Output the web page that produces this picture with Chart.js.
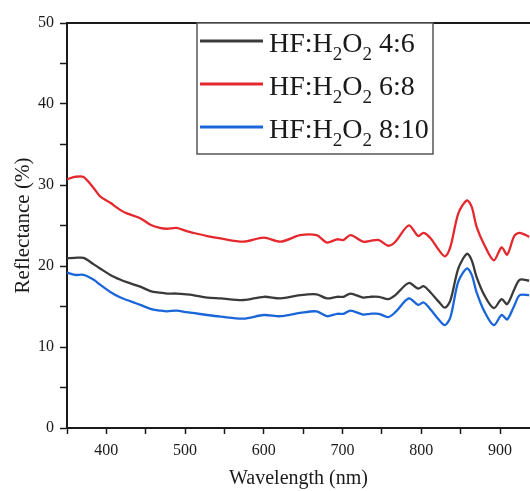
<!DOCTYPE html>
<html lang="en">
<head>
<meta charset="UTF-8">
<title>Reflectance spectra</title>
<script src="https://cdn.jsdelivr.net/npm/chart.js"></script>
<style>
  html, body { margin: 0; padding: 0; background: #fff; }
</style>
</head>
<body>
<canvas id="chartCanvas" width="530" height="491"></canvas>
<script>
// wavelength grid (nm) and reflectance (%)
const wavelengths = [350, 360, 371, 384, 392, 405, 418, 426, 443, 456, 468, 477, 489, 502, 510, 528, 545, 574,
  600, 621, 646, 667, 680, 693, 701, 710, 726, 735, 746, 758, 767, 784, 796, 803, 812, 822, 830, 837, 847,
  858, 864, 870, 880, 892, 902, 909, 918, 925, 937];
const ratio46 = [20.95, 21.0, 21.0, 20.2, 19.7, 18.9, 18.3, 18.0, 17.45, 16.9, 16.7, 16.6, 16.6, 16.5, 16.4, 16.1, 16.0, 15.8,
  16.2, 16.0, 16.4, 16.5, 16.0, 16.2, 16.2, 16.6, 16.1, 16.2, 16.2, 15.9, 16.4, 17.9, 17.2, 17.5, 16.7, 15.6, 14.85, 15.8, 19.7,
  21.5, 20.7, 18.7, 16.4, 14.8, 15.9, 15.3, 17.1, 18.3, 18.2];
const ratio68 = [30.7, 31.0, 31.0, 29.6, 28.6, 27.8, 26.9, 26.5, 25.9, 25.1, 24.7, 24.6, 24.7, 24.3, 24.1, 23.7, 23.4, 23.0,
  23.5, 23.0, 23.8, 23.8, 22.9, 23.3, 23.2, 23.8, 23.0, 23.1, 23.2, 22.5, 23.0, 25.0, 23.7, 24.1, 23.4, 22.0, 21.2, 22.4, 26.5,
  28.1, 27.3, 24.9, 22.6, 20.7, 22.3, 21.4, 23.7, 24.1, 23.6];
const ratio810 = [19.2, 18.9, 18.9, 18.3, 17.7, 16.8, 16.1, 15.8, 15.2, 14.7, 14.5, 14.4, 14.5, 14.3, 14.2, 13.95, 13.75, 13.5,
  13.95, 13.8, 14.2, 14.4, 13.8, 14.1, 14.1, 14.5, 14.0, 14.1, 14.1, 13.7, 14.3, 16.0, 15.2, 15.5, 14.6, 13.4, 12.7, 13.7, 18.1,
  19.7, 18.9, 16.8, 14.4, 12.7, 13.95, 13.4, 15.1, 16.4, 16.4];
const seriesLabels = ['HF:H₂O₂ 4:6', 'HF:H₂O₂ 6:8', 'HF:H₂O₂ 8:10'];
const seriesColors = ['#3a3a3a', '#e5282d', '#1a66d9'];

const serif = '"Liberation Serif", "Times New Roman", serif';
const ink = '#1a1a1a';

const toPoints = vals => wavelengths.map((w, i) => ({ x: w, y: vals[i] }));

// draws text, turning ₂ into a lowered small 2
function drawRich(ctx, text, x, y, size) {
  for (const ch of text) {
    const sub = ch === '₂';
    const c = sub ? '2' : ch;
    ctx.font = (sub ? size * 0.68 : size) + 'px ' + serif;
    ctx.fillText(c, x, sub ? y + size * 0.3 : y);
    x += ctx.measureText(c).width;
  }
}

// boxed legend + top frame line like the Origin plot
const frameLegend = {
  id: 'frameLegend',
  afterDatasetsDraw(chart) {
    const { ctx, chartArea } = chart;
    ctx.save();
    ctx.strokeStyle = ink;
    ctx.lineWidth = 2;
    ctx.beginPath();
    ctx.moveTo(chartArea.left, chartArea.top);
    ctx.lineTo(chartArea.right, chartArea.top);
    ctx.stroke();

    const bx = chartArea.left + 130, by = chartArea.top, bw = 236, bh = 131;
    ctx.fillStyle = '#fff';
    ctx.fillRect(bx, by, bw, bh);
    ctx.strokeStyle = '#555';
    ctx.lineWidth = 1.5;
    ctx.strokeRect(bx, by, bw, bh);

    chart.data.datasets.forEach((ds, i) => {
      const ly = by + 18 + i * 43;
      ctx.strokeStyle = ds.borderColor;
      ctx.lineWidth = 3;
      ctx.beginPath();
      ctx.moveTo(bx + 3, ly);
      ctx.lineTo(bx + 66, ly);
      ctx.stroke();
      ctx.fillStyle = ink;
      ctx.textBaseline = 'alphabetic';
      drawRich(ctx, ds.label, bx + 72, ly + 11, 28);
    });
    ctx.restore();
  }
};

const datasets = [ratio46, ratio68, ratio810].map((vals, i) => ({
  label: seriesLabels[i],
  data: toPoints(vals),
  borderColor: seriesColors[i],
  backgroundColor: seriesColors[i],
  borderWidth: 2.3,
  pointRadius: 0,
  tension: 0.3,
  fill: false
}));

new Chart(document.getElementById('chartCanvas').getContext('2d'), {
  type: 'line',
  data: { datasets },
  plugins: [frameLegend],
  options: {
    responsive: false,
    animation: false,
    devicePixelRatio: 1,
    layout: { padding: { top: 23, right: 0, left: 0, bottom: 0 } },
    plugins: { legend: { display: false }, tooltip: { enabled: false } },
    scales: {
      x: {
        type: 'linear',
        min: 350,
        max: 938,
        afterFit: s => { s.height = 63; },
        border: { color: ink, width: 2 },
        grid: { drawOnChartArea: false, tickLength: 6, tickColor: ink, tickWidth: 1.5 },
        ticks: {
          stepSize: 50,
          includeBounds: false,
          autoSkip: false,
          maxRotation: 0,
          padding: 7,
          color: ink,
          font: { family: serif, size: 16 },
          callback: v => (v % 100 === 0 ? v : '')
        },
        title: {
          display: true,
          text: 'Wavelength (nm)',
          color: ink,
          font: { family: serif, size: 20 },
          padding: { top: 0, bottom: 0 }
        }
      },
      y: {
        min: 0,
        max: 50,
        afterFit: s => { s.width = 67; },
        border: { color: ink, width: 2 },
        grid: { drawOnChartArea: false, tickLength: 7, tickColor: ink, tickWidth: 1.5 },
        ticks: {
          stepSize: 5,
          padding: 6,
          color: ink,
          font: { family: serif, size: 16 },
          callback: v => (v % 10 === 0 ? v : '')
        },
        title: {
          display: true,
          text: 'Reflectance (%)',
          color: ink,
          font: { family: serif, size: 21 },
          padding: { top: 11, bottom: 0 }
        }
      }
    }
  }
});
</script>
</body>
</html>
